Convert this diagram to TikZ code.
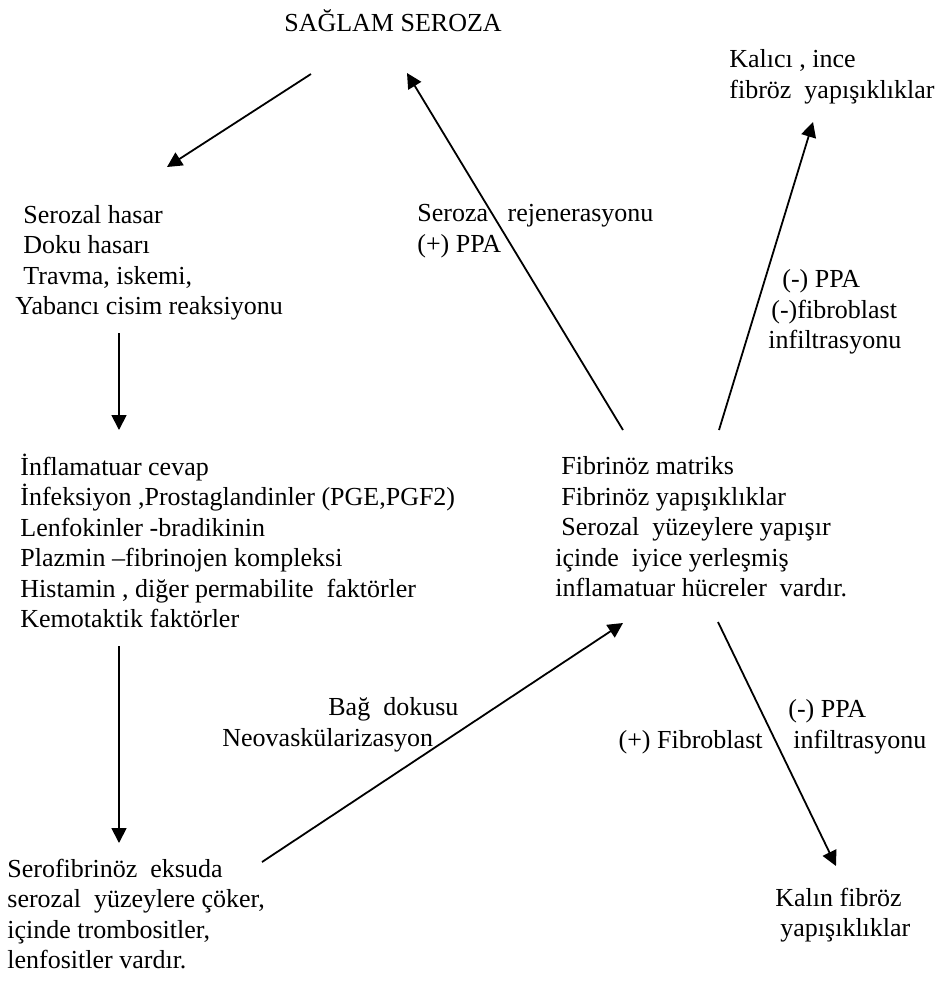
\documentclass[tikz,border=0pt]{standalone}
\usepackage{fontspec}
\setmainfont{Liberation Serif}
\usetikzlibrary{arrows.meta}

\begin{document}
\begin{tikzpicture}[
    x=0.5pt, y=-0.5pt,
    txt/.style={align=left, inner sep=0pt, font=\fontsize{13pt}{15.25pt}\selectfont},
    arrow/.style={-{Triangle[length=7.5pt, width=7.5pt]}, line width=0.9pt}
]
    \useasboundingbox (0,0) rectangle (942,982);

    \node[txt] (saglam) at (393,21) {SAĞLAM SEROZA};
    \node[txt, anchor=west] (kalici) at (729,77) {Kalıcı , ince\\fibröz\ \ yapışıklıklar};
    \node[txt, anchor=west] (hasar) at (15,263) {\hspace*{4pt}Serozal hasar\\\hspace*{4pt}Doku hasarı\\\hspace*{4pt}Travma, iskemi,\\Yabancı cisim reaksiyonu};
    \node[txt, anchor=west] (rejen) at (417,231) {Seroza\ \ \ rejenerasyonu\\(+) PPA};
    \node[txt, anchor=west] (ppaust) at (768,312) {\hspace*{7pt}(-) PPA\\\hspace*{1.5pt}(-)fibroblast\\infiltrasyonu};
    \node[txt, anchor=west] (inflam) at (20,541) {İnflamatuar cevap\\İnfeksiyon ,Prostaglandinler (PGE,PGF2)\\Lenfokinler -bradikinin\\Plazmin –fibrinojen kompleksi\\Histamin , diğer permabilite\ \ faktörler\\Kemotaktik faktörler};
    \node[txt, anchor=west] (matriks) at (555,527) {\hspace*{3pt}Fibrinöz matriks\\\hspace*{3pt}Fibrinöz yapışıklıklar\\\hspace*{3pt}Serozal\ \ yüzeylere yapışır\\içinde\ \ iyice yerleşmiş\\inflamatuar hücreler\ \ vardır.};
    \node[txt, anchor=west] (bag) at (222,725) {\hspace*{53pt}Bağ\ \ dokusu\\Neovaskülarizasyon};
    \node[txt, anchor=east] (fibro) at (763,742) {(+) Fibroblast};
    \node[txt, anchor=west] (ppaalt) at (788,727) {(-) PPA\\\hspace*{2.5pt}infiltrasyonu};
    \node[txt, anchor=west] (eksuda) at (7,914) {Serofibrinöz\ \ eksuda\\serozal\ \ yüzeylere çöker,\\içinde trombositler,\\lenfositler vardır.};
    \node[txt, anchor=west] (kalin) at (775,915) {Kalın fibröz\\\hspace*{2.5pt}yapışıklıklar};

    % ok uclari
    \coordinate (saglam-c) at (311,74);
    \coordinate (hasar-c) at (167,167);
    \coordinate (hasar-d) at (119,333);
    \coordinate (inflam-u) at (119,430);
    \coordinate (inflam-d) at (119,646);
    \coordinate (eksuda-u) at (119,843);
    \coordinate (eksuda-r) at (262,862);
    \coordinate (matriks-dl) at (623,623);
    \coordinate (matriks-ul) at (623,430);
    \coordinate (saglam-r) at (407,73);
    \coordinate (matriks-ur) at (719,430);
    \coordinate (kalici-d) at (813,122);
    \coordinate (matriks-dr) at (718,622);
    \coordinate (kalin-u) at (836,866);

    \draw[arrow] (saglam-c) -- (hasar-c);
    \draw[arrow] (hasar-d) -- (inflam-u);
    \draw[arrow] (inflam-d) -- (eksuda-u);
    \draw[arrow] (eksuda-r) -- (matriks-dl);
    \draw[arrow] (matriks-ul) -- (saglam-r);
    \draw[arrow] (matriks-ur) -- (kalici-d);
    \draw[arrow] (matriks-dr) -- (kalin-u);
\end{tikzpicture}
\end{document}
